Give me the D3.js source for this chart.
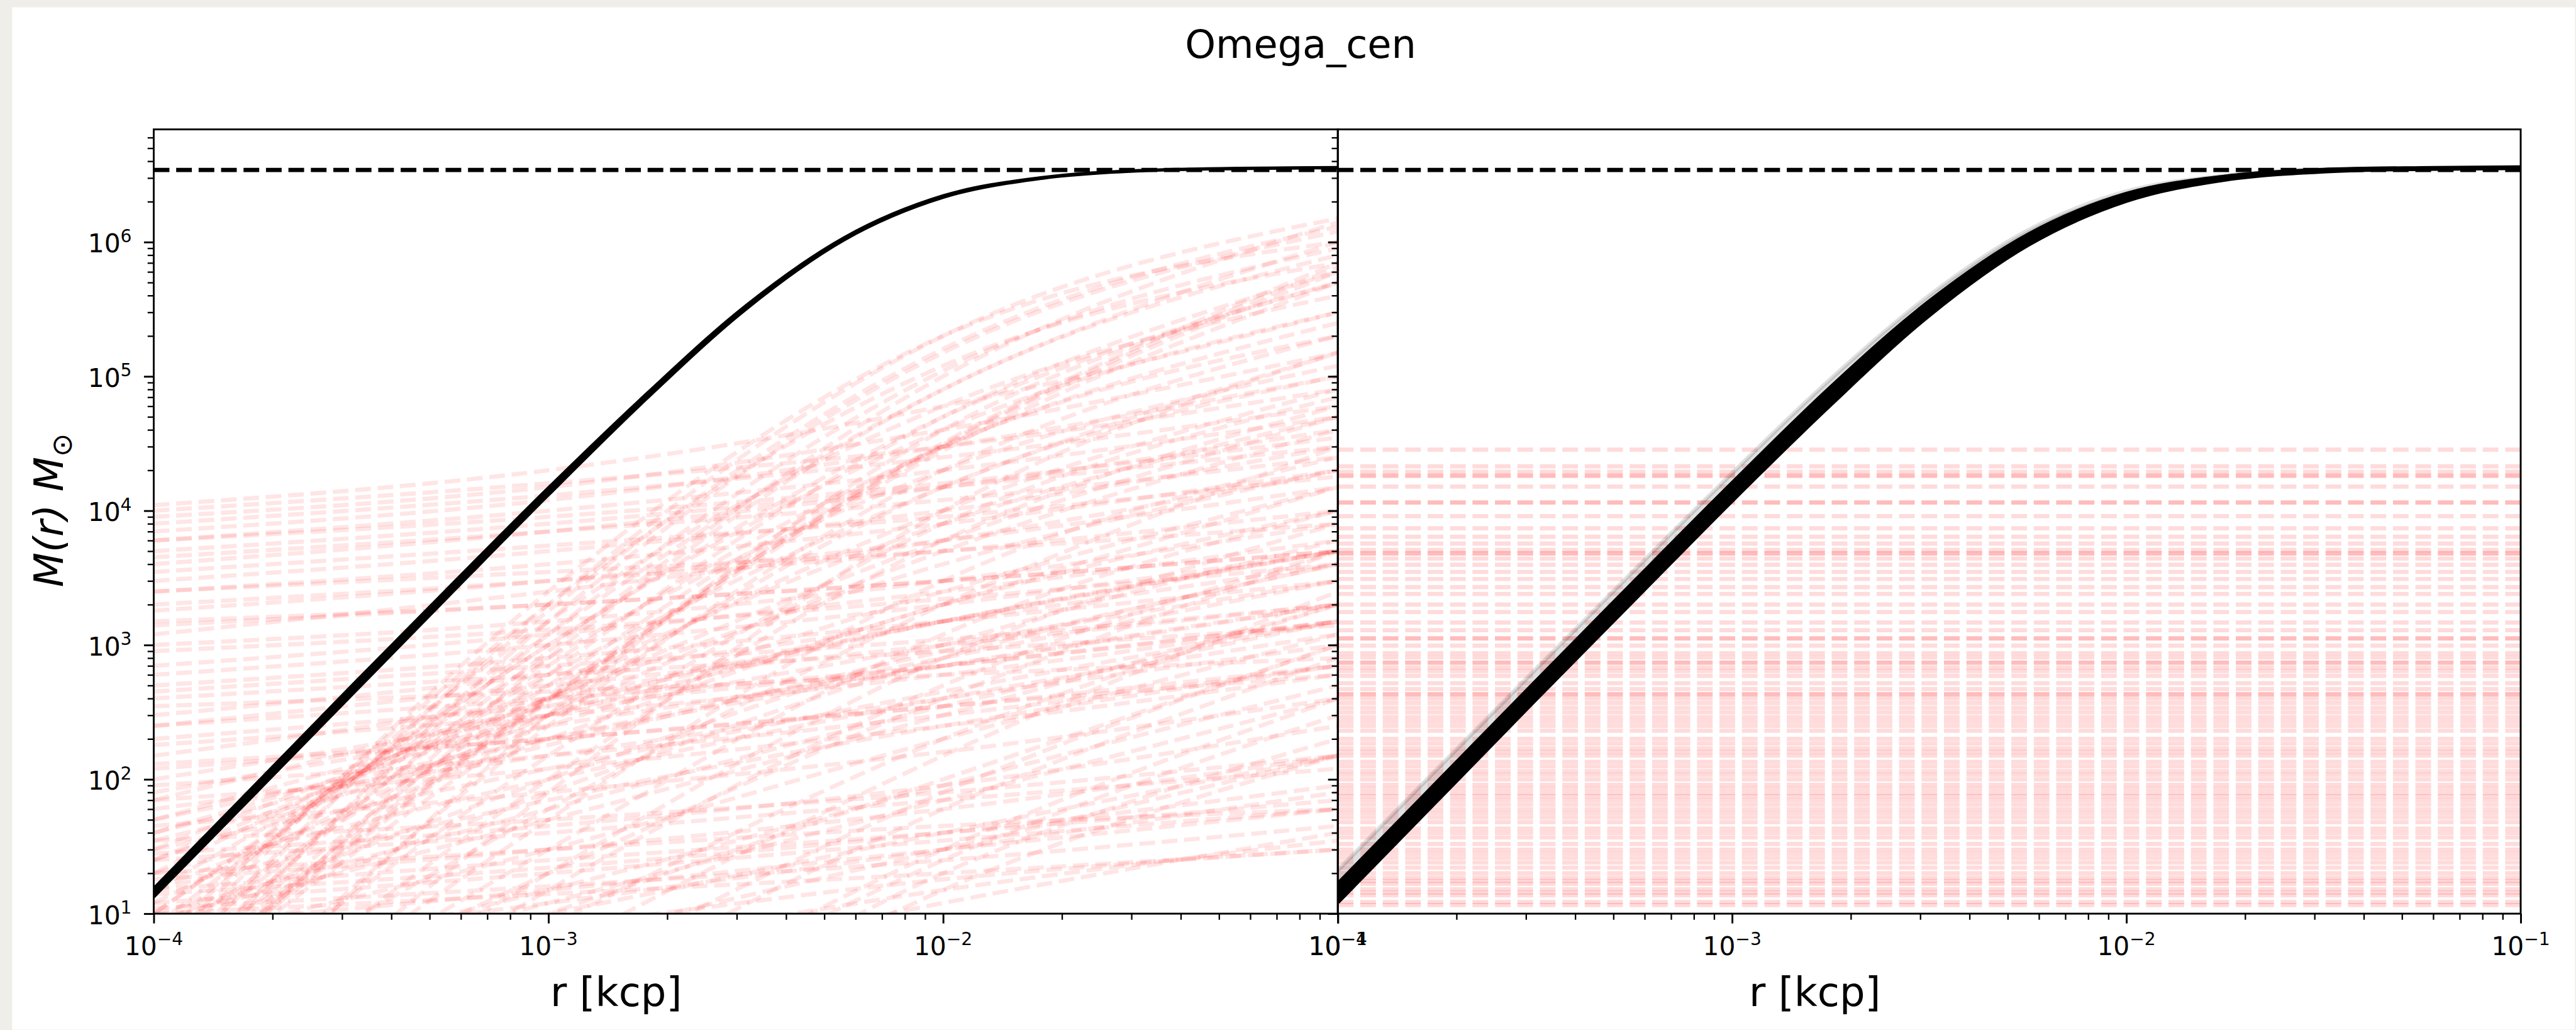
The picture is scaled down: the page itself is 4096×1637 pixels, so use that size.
<!DOCTYPE html>
<html>
<head>
<meta charset="utf-8">
<script src="https://cdnjs.cloudflare.com/ajax/libs/d3/7.8.5/d3.min.js"></script>
<style>
  html, body { margin: 0; padding: 0; overflow: hidden; background: #f0eee8; }
  text { font-family: "DejaVu Sans", sans-serif; fill: #000; }
</style>
</head>
<body>
<svg id="fig" width="4096" height="1637"></svg>
<script>
// ---- data ----
var title = "Omega_cen";
var xTicks = [1e-4, 1e-3, 1e-2, 1e-1];
var xTickExp = ["\u22124", "\u22123", "\u22122", "\u22121"];
var yTicks = [1e1, 1e2, 1e3, 1e4, 1e5, 1e6];
var yTickExp = ["1", "2", "3", "4", "5", "6"];
var totalMass = 3.44e6;

// radii where the black curves were read
var rGrid = [1e-4, 1.78e-4, 3.16e-4, 5.62e-4, 1e-3, 1.78e-3, 3.16e-3, 5.62e-3, 1e-2, 1.78e-2, 3.16e-2, 5.62e-2, 1e-1];
var blackLeftLow  = [13.3, 75, 420, 2360, 1.31e4, 6.9e4, 3.15e5, 1.04e6, 2.15e6, 2.98e6, 3.39e6, 3.52e6, 3.57e6];
var blackLeftHigh = [15.4, 87, 490, 2720, 1.48e4, 7.5e4, 3.35e5, 1.08e6, 2.21e6, 3.02e6, 3.41e6, 3.54e6, 3.59e6];
var blackRightLow  = [12.2, 69, 388, 2150, 1.19e4, 6.2e4, 2.85e5, 9.5e5, 2.03e6, 2.92e6, 3.36e6, 3.51e6, 3.56e6];
var blackRightHigh = [16.6, 94, 525, 2920, 1.6e4, 8.3e4, 3.6e5, 1.13e6, 2.28e6, 3.07e6, 3.44e6, 3.55e6, 3.59e6];
var blackRightHalo = [21, 118, 650, 3550, 1.9e4, 9.6e4, 4.0e5, 1.22e6, 2.38e6, 3.12e6, 3.46e6, 3.56e6, 3.6e6];

// left panel red curves: M at r = 1e-4, 1e-3, 1e-2, 1e-1
var rRed = [1e-4, 1e-3, 1e-2, 1e-1];
var redLeft = [
  // steep samples ending high
  [3, 2e3, 2e5, 1.5e6], [2, 1.5e3, 1.5e5, 1.2e6], [4, 2.5e3, 2e5, 1e6], [5, 2e3, 1.2e5, 7e5],
  [1.5, 8e2, 8e4, 8e5], [6, 1.5e3, 6e4, 4e5], [8, 1e3, 4e4, 3e5], [3, 5e2, 3e4, 2e5],
  [10, 8e2, 2e4, 1.2e5], [2, 3e2, 1.5e4, 1e5], [20, 5e2, 8e3, 5e4], [30, 4e2, 4e3, 2e4],
  [2.5, 1.2e3, 1.1e5, 9e5], [3.5, 1.8e3, 1.6e5, 1.3e6], [2, 6e2, 5e4, 6e5], [4, 7e2, 3e4, 2.5e5],
  [6, 4e2, 1e4, 8e4], [12, 3e2, 5e3, 4e4], [25, 250, 2e3, 1.5e4], [35, 180, 900, 4e3],
  [25, 400, 6e3, 5e4], [15, 600, 1.5e4, 1.5e5], [10, 1e3, 5e4, 5e5], [7, 1.2e3, 8e4, 1e6], [3, 900, 1e5, 1.4e6],
  // dark streak (overlapping samples)
  [2.2, 380, 2.8e4, 5e5], [2.8, 420, 3.2e4, 7e5], [2.5, 400, 3e4, 6e5], [2.4, 390, 3.1e4, 6.5e5],
  // samples rising from below the axis
  [0.5, 300, 4e4, 5e5], [0.7, 250, 2e4, 2e5], [1, 150, 8e3, 7e4], [0.6, 100, 6e3, 6e4],
  [0.3, 80, 1e4, 1.5e5], [0.4, 50, 3e3, 2.5e4], [0.5, 30, 1.2e3, 1e4], [0.3, 20, 800, 8e3],
  [0.2, 15, 500, 5e3], [0.2, 8, 200, 2e3], [0.1, 5, 150, 2.5e3], [0.1, 3, 80, 1e3],
  [0.05, 2, 60, 800], [0.05, 1, 30, 400], [0.02, 0.8, 25, 300], [0.02, 0.5, 20, 200], [0.01, 0.4, 15, 150],
  [0.8, 20, 400, 5e3], [1.2, 60, 2e3, 3e4], [1, 10, 100, 1e3], [2, 12, 70, 400], [3, 10, 40, 150],
  // mid samples
  [15, 2e2, 2e3, 1e4], [50, 3e2, 1.5e3, 5e3], [40, 2e2, 8e2, 3e3], [60, 150, 400, 1e3],
  [8, 100, 1e3, 6e3], [6, 80, 800, 4e3], [10, 60, 350, 1.5e3], [20, 100, 400, 1.2e3],
  [15, 70, 250, 700], [30, 120, 450, 1.5e3], [50, 200, 700, 2e3], [70, 350, 1.5e3, 5e3], [40, 300, 2.5e3, 1.5e4],
  [6, 30, 200, 1.2e3], [9, 50, 300, 2e3], [3, 15, 90, 500], [1, 6, 30, 150],
  // shallow samples
  [100, 300, 1e3, 3e3], [150, 400, 1.5e3, 5e3], [200, 350, 700, 1.5e3], [300, 600, 1.5e3, 4e3],
  [500, 800, 1.5e3, 3e3], [700, 1.2e3, 2.5e3, 6e3], [1e3, 1.5e3, 3e3, 8e3], [1.2e3, 2.5e3, 6e3, 2e4],
  [2e3, 3e3, 5e3, 1e4], [3e3, 5e3, 1e4, 3e4], [4e3, 7e3, 1.5e4, 4e4], [5e3, 8e3, 1.5e4, 3e4],
  [7e3, 1.2e4, 3e4, 1e5], [9e3, 1.5e4, 4e4, 1.5e5], [1.1e4, 2e4, 6e4, 3e5],
  [80, 250, 700, 2e3], [120, 200, 350, 600], [250, 500, 1e3, 2e3], [400, 600, 900, 1.4e3],
  [1.5e3, 2e3, 3e3, 5e3], [2.5e3, 4e3, 8e3, 2e4], [6e3, 1e4, 2e4, 5e4],
  [1.0e4, 1.6e4, 3e4, 8e4], [8e3, 1.3e4, 2.5e4, 6e4], [6e3, 9e3, 1.6e4, 3.5e4], [4.5e3, 7e3, 1.2e4, 2.5e4],
  [3.5e3, 5.5e3, 9e3, 1.8e4], [2.5e3, 3.5e3, 5e3, 8e3], [1.8e3, 3e3, 6e3, 1.5e4], [1.4e3, 2e3, 3e3, 5e3],
  [900, 1.3e3, 2.2e3, 4e3], [600, 1e3, 2e3, 5e3], [450, 700, 1.1e3, 2e3], [350, 450, 600, 800],
  [250, 400, 700, 1.5e3], [180, 300, 600, 1.5e3], [130, 200, 350, 700], [90, 150, 300, 700],
  [70, 120, 250, 600], [45, 80, 160, 400], [35, 50, 80, 150], [28, 45, 90, 250],
  [18, 30, 60, 150], [14, 22, 40, 90], [11, 16, 25, 45],
  // near the bottom
  [12, 20, 35, 60], [15, 25, 40, 70], [20, 30, 45, 60], [25, 40, 70, 120], [10, 14, 20, 30],
  [8, 15, 30, 60], [5, 12, 30, 80], [1, 3, 12, 40], [2, 5, 15, 35], [4, 8, 18, 30]
];

// right panel red horizontal lines: value and number of overlapping samples
var redRight = [2.85e4, 2.14e4, 1.95e4, 1.82e4, 1.51e4, 1.15e4, 9.1e3, 7.4e3, 6.4e3, 5.7e3, 5.1e3, 4.8e3,
  4.4e3, 3.96e3, 3.5e3, 3.1e3, 2.7e3, 2.4e3, 2.0e3, 1.76e3, 1.47e3, 1.29e3, 1.12e3, 990, 870, 740, 680,
  590, 520, 430, 400, 340, 290, 270, 230, 200, 170, 150, 135, 115, 100, 91, 79, 70, 60, 52, 43, 40, 37,
  33, 28, 26, 24, 22, 20, 18.5, 16.7, 15.2, 13.7, 12.2, 11.6,
  810, 640, 470, 370, 315, 250, 185, 160, 125, 108, 85, 75, 65, 56, 48, 30, 17.5, 14.4];
var redRightCount = [1, 1, 1, 2, 1, 2, 1, 1, 1, 1, 1, 2, 1, 1, 1, 1, 1, 1, 1, 1, 1, 1, 2, 1, 1, 2, 1,
  1, 1, 2, 1, 1, 1, 1, 1, 1, 1, 1, 1, 1, 1, 1, 1, 1, 1, 1, 1, 1, 1,
  1, 1, 1, 1, 1, 1, 1, 1, 1, 1, 1, 1,
  1, 1, 1, 1, 1, 1, 1, 1, 1, 1, 1, 1, 1, 1, 1, 1, 1, 1];

// ---- layout (reference pixels, scaled to the window) ----
var S = 0.97;
var yTop = 212, yBottom = 1497;
var panels = [{x0: 252, x1: 2193}, {x0: 2193, x1: 4132}];
var lw = 6.9, dash = "25.7 11.1";

var svg = d3.select("#fig");
svg.append("rect").attr("width", 4096).attr("height", 1637).attr("fill", "#f0eee8");
var g = svg.append("g").attr("transform", "scale(" + S + ")");
g.append("rect").attr("x", 20).attr("y", 12).attr("width", 4221 - 20).attr("height", 1687 - 12).attr("fill", "#fff");

var y = d3.scaleLog().domain([10, 6.9e6]).range([yBottom, yTop]);

panels.forEach(function (p, i) {
  p.x = d3.scaleLog().domain([1e-4, 1e-1]).range([p.x0, p.x1]);
  g.append("clipPath").attr("id", "clip" + i)
    .append("rect").attr("x", p.x0).attr("y", yTop).attr("width", p.x1 - p.x0).attr("height", yBottom - yTop);
  p.plot = g.append("g").attr("clip-path", "url(#clip" + i + ")");
});

function lineFor(xs) {
  return d3.line()
    .x(function (d) { return xs(d[0]); })
    .y(function (d) { return y(d[1]); })
    .curve(d3.curveMonotoneX);
}
function pairs(rs, ms) { return rs.map(function (r, k) { return [r, ms[k]]; }); }

// left panel: red curves
var L = panels[0], R = panels[1];
L.plot.selectAll("path.red").data(redLeft).enter().append("path")
  .attr("class", "red")
  .attr("d", function (d) { return lineFor(L.x)(pairs(rRed, d)); })
  .attr("fill", "none").attr("stroke", "red").attr("stroke-opacity", 0.1)
  .attr("stroke-width", lw).attr("stroke-dasharray", dash);

// right panel: red horizontal lines
var rightLines = [];
redRight.forEach(function (v, k) {
  for (var c = 0; c < redRightCount[k]; c++) rightLines.push(v);
});
R.plot.selectAll("path.red").data(rightLines).enter().append("path")
  .attr("class", "red")
  .attr("d", function (v) { return lineFor(R.x)([[1e-4, v], [1e-1, v]]); })
  .attr("fill", "none").attr("stroke", "red").attr("stroke-opacity", 0.14)
  .attr("stroke-width", lw).attr("stroke-dasharray", dash);

// black bands
function band(p, low, high, opacity, edge) {
  var area = d3.area()
    .x(function (d) { return p.x(d[0]); })
    .y0(function (d) { return y(d[1]); })
    .y1(function (d) { return y(d[2]); })
    .curve(d3.curveMonotoneX);
  var rows = rGrid.map(function (r, k) { return [r, low[k], high[k]]; });
  p.plot.append("path").attr("d", area(rows)).attr("fill", "#000").attr("fill-opacity", opacity);
  [low, high].forEach(function (ms) {
    p.plot.append("path").attr("d", lineFor(p.x)(pairs(rGrid, ms)))
      .attr("fill", "none").attr("stroke", "#000").attr("stroke-opacity", opacity).attr("stroke-width", edge);
  });
}
band(L, blackLeftLow, blackLeftHigh, 1, 5);
band(R, blackRightHigh, blackRightHalo, 0.12, lw);
band(R, blackRightLow, blackRightHigh, 1, lw);

// total mass
panels.forEach(function (p) {
  p.plot.append("path").attr("d", lineFor(p.x)([[1e-4, totalMass], [1e-1, totalMass]]))
    .attr("fill", "none").attr("stroke", "#000").attr("stroke-width", lw).attr("stroke-dasharray", dash);
});

// ---- axes ----
function minorsOf(lo, hi) {
  var out = [];
  for (var e = Math.floor(Math.log10(lo)); e <= Math.ceil(Math.log10(hi)); e++) {
    for (var m = 2; m <= 9; m++) {
      var v = m * Math.pow(10, e);
      if (v > lo && v < hi) out.push(v);
    }
  }
  return out;
}

panels.forEach(function (p, i) {
  var ax = g.append("g");
  // y ticks
  var ya = ax.append("g").attr("transform", "translate(" + p.x0 + ",0)");
  ya.call(d3.axisLeft(y).tickValues(yTicks).tickSize(16).tickFormat(""));
  ya.append("g").attr("class", "minor").call(d3.axisLeft(y).tickValues(minorsOf(10, 6.9e6)).tickSize(10).tickFormat(""));
  // x ticks
  var xa = ax.append("g").attr("transform", "translate(0," + yBottom + ")");
  xa.call(d3.axisBottom(p.x).tickValues(xTicks).tickSize(16).tickFormat(""));
  xa.append("g").attr("class", "minor").call(d3.axisBottom(p.x).tickValues(minorsOf(1e-4, 1e-1)).tickSize(10).tickFormat(""));
  ax.selectAll(".domain").remove();
  ax.selectAll(".tick line").attr("stroke", "#000").attr("stroke-width", 3);
  ax.selectAll(".minor .tick line").attr("stroke-width", 2.4);

  // x tick labels
  xTicks.forEach(function (t, k) {
    var tx = ax.append("text").attr("x", p.x(t)).attr("y", 1565)
      .attr("text-anchor", "middle").attr("font-size", 42);
    tx.append("tspan").text("10");
    tx.append("tspan").attr("dy", -17).attr("font-size", 29).text(xTickExp[k]);
  });
  // spines
  ax.append("rect").attr("x", p.x0).attr("y", yTop).attr("width", p.x1 - p.x0).attr("height", yBottom - yTop)
    .attr("fill", "none").attr("stroke", "#000").attr("stroke-width", 3);
  // x label
  g.append("text").attr("x", i === 0 ? 1010 : 2975).attr("y", 1648)
    .attr("text-anchor", "middle").attr("font-size", 66).text("r [kcp]");
});

// y tick labels (left panel only)
yTicks.forEach(function (t, k) {
  var tx = g.append("text").attr("x", 216).attr("y", y(t) + 17)
    .attr("text-anchor", "end").attr("font-size", 42);
  tx.append("tspan").text("10");
  tx.append("tspan").attr("dy", -17).attr("font-size", 29).text(yTickExp[k]);
});

// y label
var ylab = g.append("text").attr("transform", "translate(103,836) rotate(-90)")
  .attr("text-anchor", "middle").attr("font-size", 66);
ylab.append("tspan").attr("font-style", "italic").text("M(r)");
ylab.append("tspan").text("\u00a0");
ylab.append("tspan").attr("font-style", "italic").text("M");
ylab.append("tspan").attr("dy", 14).attr("font-size", 46).text("\u2299");

// title
g.append("text").attr("x", 2132).attr("y", 95).attr("text-anchor", "middle")
  .attr("font-size", 64).text(title);
</script>
</body>
</html>
